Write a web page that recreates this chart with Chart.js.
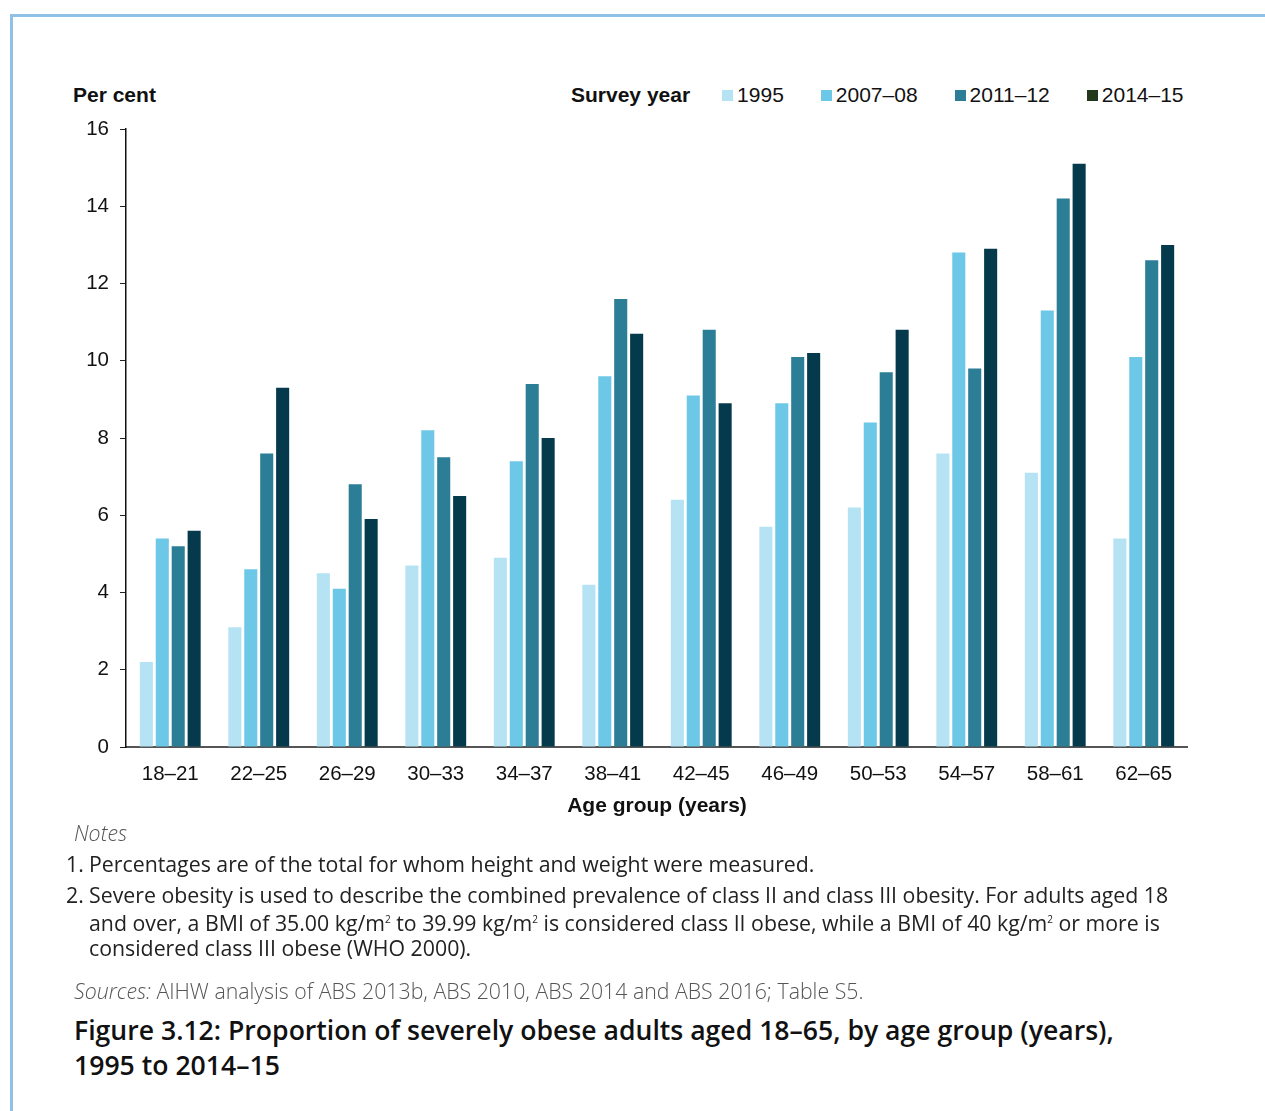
<!DOCTYPE html>
<html>
<head>
<meta charset="utf-8">
<script src="https://cdn.jsdelivr.net/npm/chart.js@4.4.1/dist/chart.umd.min.js"></script>
<style>
  html, body { margin: 0; padding: 0; background: #fff; }
  body { width: 1265px; height: 1111px; position: relative; overflow: hidden; font-family: "Liberation Sans", Arial, sans-serif; }
  .frame { position: absolute; left: 10px; top: 14px; right: -10px; bottom: -10px; border-top: 3px solid #8fc0e8; border-left: 3px solid #8fc0e8; }
  .unit { position: absolute; left: 73px; top: 83px; font-weight: bold; font-size: 21px; color: #111; }
  .legend { position: absolute; left: 571px; top: 83px; display: flex; align-items: center; font-size: 21px; color: #111; }
  .legend .ttl { font-weight: bold; margin-right: 32px; }
  .legend .item { display: flex; align-items: center; margin-right: 37px; }
  .legend .sw { width: 11px; height: 11px; margin-right: 4px; }
  .wrap { position: absolute; left: 60px; top: 100px; width: 1128px; height: 723px; }
  .notes { position: absolute; left: 66px; top: 820px; width: 1120px; font-family: "Open Sans", sans-serif; font-size: 21.3px; color: #222; line-height: 25px; }
  .notes .hd { font-style: italic; color: #555; margin-left: 8px; margin-bottom: 6px; font-weight: 300; }
  .notes .n { display: flex; margin-bottom: 6px; }
  .notes .n span:first-child { width: 23px; flex: none; }
  .notes .src { color: #555; margin-left: 8px; margin-top: 18px; font-weight: 300; }
  .fig { position: absolute; left: 74px; top: 1013px; font-family: "Open Sans", sans-serif; font-weight: 600; font-size: 26.6px; line-height: 35px; color: #111; }
</style>
</head>
<body>
<div class="frame"></div>
<div class="unit">Per cent</div>
<div class="legend" id="legend"><span class="ttl">Survey year</span></div>
<div class="wrap"><canvas id="myChart"></canvas></div>
<div class="notes">
  <div class="hd">Notes</div>
  <div class="n"><span>1.</span><span>Percentages are of the total for whom height and weight were measured.</span></div>
  <div class="n"><span>2.</span><span>Severe obesity is used to describe the combined prevalence of class II and class III obesity. For adults aged 18 and over, a BMI of 35.00 kg/m<sup style="font-size:10px">2</sup> to 39.99 kg/m<sup style="font-size:10px">2</sup> is considered class II obese, while a BMI of 40 kg/m<sup style="font-size:10px">2</sup> or more is considered class III obese (WHO 2000).</span></div>
  <div class="src"><i>Sources:</i> AIHW analysis of ABS 2013b, ABS 2010, ABS 2014 and ABS 2016; Table S5.</div>
</div>
<div class="fig">Figure 3.12: Proportion of severely obese adults aged 18–65, by age group (years),<br>1995 to 2014–15</div>
<script>
const ageGroups = ["18–21", "22–25", "26–29", "30–33", "34–37", "38–41", "42–45", "46–49", "50–53", "54–57", "58–61", "62–65"];
const surveyYears = ["1995", "2007–08", "2011–12", "2014–15"];

const y1995 = [2.2, 3.1, 4.5, 4.7, 4.9, 4.2, 6.4, 5.7, 6.2, 7.6, 7.1, 5.4];
const y2007 = [5.4, 4.6, 4.1, 8.2, 7.4, 9.6, 9.1, 8.9, 8.4, 12.8, 11.3, 10.1];
const y2011 = [5.2, 7.6, 6.8, 7.5, 9.4, 11.6, 10.8, 10.1, 9.7, 9.8, 14.2, 12.6];
const y2014 = [5.6, 9.3, 5.9, 6.5, 8.0, 10.7, 8.9, 10.2, 10.8, 12.9, 15.1, 13.0];

const barColors = ["#b5e3f4", "#6cc8e6", "#2c7d96", "#043a4b"];
const legendColors = ["#b5e3f4", "#6cc8e6", "#2c7d96", "#22381a"];

const legend = document.getElementById("legend");
surveyYears.forEach((name, i) => {
  const item = document.createElement("span");
  item.className = "item";
  item.innerHTML = '<span class="sw" style="background:' + legendColors[i] + '"></span>' + name;
  legend.appendChild(item);
});

const ctx = document.getElementById("myChart");
const axisFont = { family: "'Liberation Sans', Arial, sans-serif", size: 20.5 };

new Chart(ctx, {
  type: "bar",
  data: {
    labels: ageGroups,
    datasets: [y1995, y2007, y2011, y2014].map((values, i) => ({
      label: surveyYears[i],
      data: values,
      backgroundColor: barColors[i],
      borderWidth: 0,
      categoryPercentage: 0.72,
      barPercentage: 0.82,
    })),
  },
  options: {
    responsive: true,
    maintainAspectRatio: false,
    animation: false,
    layout: { padding: { top: 29, left: 0, right: 0, bottom: 0 } },
    plugins: {
      legend: { display: false },
      tooltip: { enabled: false },
    },
    scales: {
      x: {
        grid: { display: false },
        border: { color: "#555", width: 2 },
        ticks: { color: "#111", font: axisFont, padding: 7, maxRotation: 0 },
        title: {
          display: true,
          text: "Age group (years)",
          color: "#111",
          font: { family: "'Liberation Sans', Arial, sans-serif", size: 21, weight: "bold" },
          padding: { top: 12 },
        },
        afterFit: (s) => { s.height = 76; },
      },
      y: {
        min: 0,
        max: 16,
        ticks: { stepSize: 2, color: "#111", font: axisFont, padding: 11 },
        grid: { drawOnChartArea: false, drawTicks: true, tickLength: 6, color: "#222" },
        border: { color: "#111", width: 1.5 },
        afterFit: (s) => { s.width = 66; },
      },
    },
  },
});
</script>
</body>
</html>
